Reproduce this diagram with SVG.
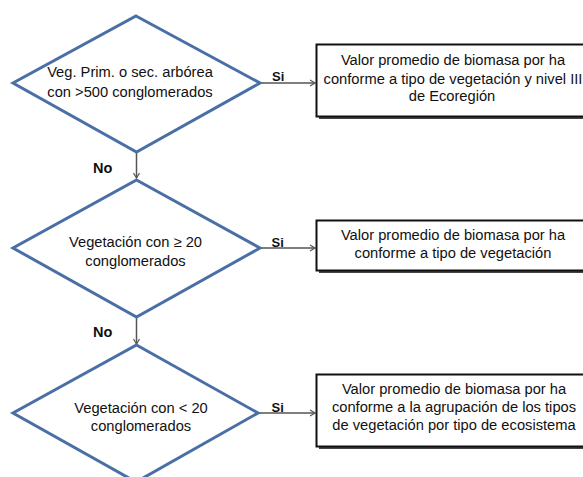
<svg xmlns="http://www.w3.org/2000/svg" width="583" height="477" viewBox="0 0 583 477">
<defs>
<style>
.dia{fill:#fff;stroke:#4a6fa6;stroke-width:3;stroke-linejoin:miter}
.box{fill:#fff;stroke:#111;stroke-width:2}
.shadow{fill:#444}
.t{font-family:"Liberation Sans",Arial,sans-serif;font-size:14.7px;fill:#111;text-anchor:middle}
.lbl{font-family:"Liberation Sans",Arial,sans-serif;font-size:13px;font-weight:bold;fill:#111}
.no{font-size:14.5px}
.con{stroke:#555;stroke-width:1.5;fill:none}
</style>
<marker id="arr" markerWidth="8" markerHeight="8" refX="6" refY="4" orient="auto" markerUnits="userSpaceOnUse">
<path d="M1,1 L6,4 L1,7" fill="none" stroke="#555" stroke-width="1.2"/>
</marker>
</defs>
<rect width="583" height="477" fill="#fff"/>
<g id="connectors">
<line class="con" x1="261" y1="83" x2="315" y2="83" marker-end="url(#arr)"/>
<line class="con" x1="261" y1="248" x2="315" y2="248" marker-end="url(#arr)"/>
<line class="con" x1="259" y1="413" x2="315" y2="413" marker-end="url(#arr)"/>
<line class="con" x1="136.5" y1="152" x2="136.5" y2="178" marker-end="url(#arr)"/>
<line class="con" x1="136.5" y1="317" x2="136.5" y2="344" marker-end="url(#arr)"/>
<text class="lbl" x="272" y="81">Si</text>
<text class="lbl" x="271.5" y="246.5">Si</text>
<text class="lbl" x="271.5" y="411.5">Si</text>
<text class="lbl no" x="93" y="172.5">No</text>
<text class="lbl no" x="93" y="336.5">No</text>
</g>
<g id="d1">
<polygon class="dia" points="136,16 260,83 136.5,152 13,83"/>
<text class="t" x="130" y="77">Veg. Prim. o sec. arbórea</text>
<text class="t" x="130" y="96.5">con &gt;500 conglomerados</text>
</g>
<g id="d2">
<polygon class="dia" points="136.5,180 260,248 136.5,317 13,248"/>
<text class="t" x="135.5" y="246.5">Vegetación con ≥ 20</text>
<text class="t" x="135.5" y="265.5">conglomerados</text>
</g>
<g id="d3">
<polygon class="dia" points="136.5,345 258,413 136,482 13,413"/>
<text class="t" x="141" y="413">Vegetación con &lt; 20</text>
<text class="t" x="141" y="431">conglomerados</text>
</g>
<g id="b1">
<rect class="shadow" x="319" y="47" width="280" height="72"/>
<rect class="box" x="316.5" y="44.5" width="280" height="72"/>
<text class="t" x="453" y="65">Valor promedio de biomasa por ha</text>
<text class="t" x="453" y="83.5">conforme a tipo de vegetación y nivel III</text>
<text class="t" x="452" y="101">de Ecoregión</text>
</g>
<g id="b2">
<rect class="shadow" x="319" y="223" width="280" height="50"/>
<rect class="box" x="316.5" y="220.5" width="280" height="50"/>
<text class="t" x="453" y="239.5">Valor promedio de biomasa por ha</text>
<text class="t" x="453" y="257.5">conforme a tipo de vegetación</text>
</g>
<g id="b3">
<rect class="shadow" x="319" y="377" width="280" height="72"/>
<rect class="box" x="316.5" y="374.5" width="280" height="72"/>
<text class="t" x="454" y="393.5">Valor promedio de biomasa por ha</text>
<text class="t" x="454" y="412">conforme a la agrupación de los tipos</text>
<text class="t" x="454" y="430">de vegetación por tipo de ecosistema</text>
</g>
</svg>
